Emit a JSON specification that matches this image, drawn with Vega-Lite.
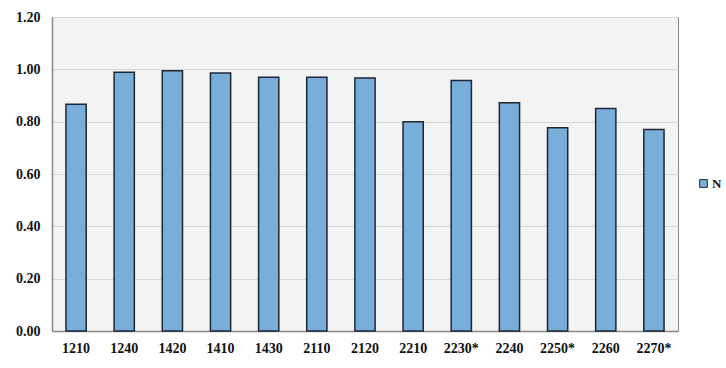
{
  "$schema": "https://vega.github.io/schema/vega-lite/v6.json",
  "autosize": {"type": "none"},
  "padding": {"left": 52, "top": 17, "right": 48, "bottom": 37},
  "width": 626,
  "height": 314,
  "background": "#ffffff",
  "data": {
    "values": [
      {"code": "1210", "value": 0.867, "series": "N"},
      {"code": "1240", "value": 0.989, "series": "N"},
      {"code": "1420", "value": 0.995, "series": "N"},
      {"code": "1410", "value": 0.986, "series": "N"},
      {"code": "1430", "value": 0.970, "series": "N"},
      {"code": "2110", "value": 0.970, "series": "N"},
      {"code": "2120", "value": 0.967, "series": "N"},
      {"code": "2210", "value": 0.800, "series": "N"},
      {"code": "2230*", "value": 0.957, "series": "N"},
      {"code": "2240", "value": 0.872, "series": "N"},
      {"code": "2250*", "value": 0.777, "series": "N"},
      {"code": "2260", "value": 0.850, "series": "N"},
      {"code": "2270*", "value": 0.770, "series": "N"}
    ]
  },
  "mark": {"type": "bar", "stroke": "#1c2733", "strokeWidth": 1.5},
  "encoding": {
    "x": {
      "field": "code",
      "type": "nominal",
      "sort": null,
      "scale": {"paddingInner": 0.58, "paddingOuter": 0.29},
      "axis": {
        "title": null,
        "labelAngle": 0,
        "ticks": false,
        "labelPadding": 10,
        "labelFont": "Liberation Serif",
        "labelFontWeight": "bold",
        "labelFontSize": 14,
        "labelColor": "#111111",
        "domainColor": "#888888",
        "domainWidth": 1.5
      }
    },
    "y": {
      "field": "value",
      "type": "quantitative",
      "scale": {"domain": [0, 1.2], "nice": false},
      "axis": {
        "title": null,
        "values": [0, 0.2, 0.4, 0.6, 0.8, 1.0, 1.2],
        "format": ".2f",
        "ticks": false,
        "labelPadding": 12,
        "labelFont": "Liberation Serif",
        "labelFontWeight": "bold",
        "labelFontSize": 14,
        "labelColor": "#111111",
        "gridColor": "#d6d6d6",
        "gridWidth": 1,
        "domainColor": "#888888",
        "domainWidth": 1.5
      }
    },
    "fill": {
      "field": "series",
      "type": "nominal",
      "scale": {"range": ["#79aedb"]},
      "legend": {
        "title": null,
        "orient": "none",
        "legendX": 645,
        "legendY": 160,
        "symbolType": "square",
        "symbolSize": 60,
        "symbolStrokeColor": "#1c2733",
        "symbolStrokeWidth": 1,
        "labelFont": "Liberation Serif",
        "labelFontWeight": "bold",
        "labelFontSize": 13,
        "labelColor": "#111111",
        "labelOffset": 2
      }
    }
  },
  "config": {
    "view": {"fill": "#f3f3f3", "stroke": "#888888", "strokeWidth": 1}
  }
}
